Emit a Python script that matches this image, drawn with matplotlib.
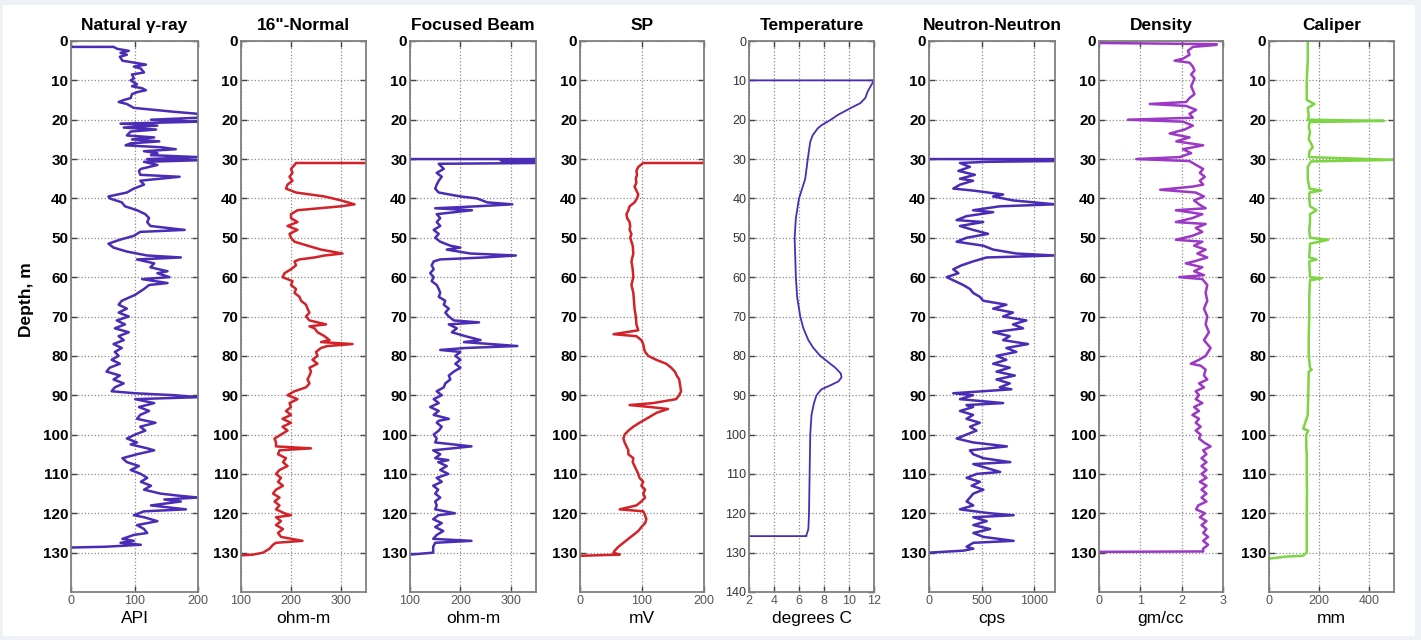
import matplotlib.pyplot as plt
from matplotlib.patches import Rectangle

# depth logs (depth in m, values in log units)
gr_depth = [1.5, 1.5, 2, 2.5, 3, 3.5, 4, 5, 5.5, 6, 6.5, 7, 8, 8.5, 9.5, 10, 11, 11.5, 12, 12.5,
            13, 13.5, 14.5, 15, 15.5, 16, 17, 17.5, 18, 18.5, 19.5, 20, 20.5, 21, 21.5, 22, 22.5,
            23, 24, 24.5, 25, 25.5, 26, 26.5, 27, 27.5, 28, 28.5, 29, 29.5, 30, 30.3, 30.7, 31.5,
            32.5, 33, 34, 34.5, 35.5, 36.5, 37.5, 38.5, 39.5, 40, 41, 42, 43, 44, 45, 46, 47, 48,
            48.5, 49.5, 50.5, 51.5, 52.5, 53.5, 54.5, 55, 55.5, 56.5, 57.5, 58.5, 59, 60, 60.5,
            61.5, 62, 63, 64.5, 66, 67, 68, 69, 70, 71, 72, 73, 74, 75, 76, 77, 78, 79, 80, 81, 82,
            83, 84, 85, 86, 87, 88, 89, 89.5, 90, 90.5, 91, 92, 93, 94, 95, 96, 97, 98, 99, 100,
            101, 102, 102.5, 103.5, 104, 105, 106, 107, 108, 109, 110, 111, 112, 113, 114, 115,
            115.5, 116, 116.5, 117, 118, 119, 119.5, 120.5, 121, 122, 123, 124, 125, 125.5, 126.5,
            127, 127.5, 128, 128.5, 128.7]
gr_api = [0, 67, 73, 91, 78, 88, 77, 81, 99, 118, 99, 110, 115, 96, 99, 94, 104, 96, 112, 118,
          104, 96, 94, 83, 75, 88, 99, 131, 163, 200, 200, 126, 200, 78, 136, 83, 134,
          94, 88, 131, 96, 139, 94, 86, 142, 165, 115, 136, 126, 200, 120, 200, 115, 136,
          110, 107, 109, 171, 109, 115, 99, 88, 59, 61, 80, 85, 104, 117, 123, 120, 125, 179,
          109, 99, 77, 59, 67, 88, 120, 173, 104, 131, 125, 152, 136, 155, 112,
          152, 123, 115, 101, 80, 75, 88, 75, 91, 72, 85, 69, 91, 75, 83, 67, 80, 69, 75, 64, 77,
          61, 56, 77, 67, 83, 69, 64, 101, 163, 200, 101, 131, 107, 123, 109, 104, 133, 109, 117, 101,
          88, 104, 94, 120, 131, 104, 81, 88, 107, 94, 110, 120, 110, 126, 115, 141,
          168, 200, 147, 173, 126, 181, 115, 99, 115, 136, 104, 115, 120, 99, 81,
          99, 78, 110, 54, 0]

sn_depth = [31, 31, 31.5, 32.5, 33.5, 34.5, 35.5, 36.5, 37.5, 38.5, 39.5, 40.5, 41.5, 42, 43, 44,
            45, 46, 47, 48, 49, 50, 51, 52, 53, 54, 54.5, 55, 55.5, 56, 57, 58, 59, 60, 61, 62, 63,
            64, 65, 66, 67, 68, 69, 70, 71, 72, 72.5, 73, 74, 75, 76, 76.5, 77, 77.5, 78, 79, 80,
            81, 82, 83, 84, 85, 86, 87, 88, 89, 90, 91, 92, 93, 94, 95, 96, 97, 98, 99, 100, 101,
            102, 103, 103.5, 104, 105, 106, 107, 108, 109, 110, 111, 112, 113, 114, 115, 116, 117,
            118, 119, 120, 120.5, 121, 122, 123, 124, 125, 126, 127, 127.5, 128, 129, 130, 130.5,
            130.7]
sn_ohm = [350, 210, 207, 200, 203, 197, 203, 193, 190, 210, 267, 300, 327, 300, 213, 200,
          200, 213, 193, 213, 197, 200, 207, 233, 260, 303, 267, 247, 217, 207, 210, 200, 187, 183,
          203, 200, 210, 207, 217, 220, 230, 233, 237, 230, 237, 270, 237, 247, 253, 267, 277, 260,
          323, 273, 260, 250, 253, 243, 253, 237, 240, 237, 233, 237, 230, 207, 193, 213, 197, 200,
          190, 200, 183, 200, 183, 193, 180, 167, 170, 170, 240, 177, 174, 190, 184, 193, 177, 170,
          180, 174, 184, 170, 164, 177, 167, 177, 170, 187, 200, 170, 180, 170, 184, 174, 180, 223,
          170, 164, 157, 144, 124, 100]

fb_depth = [30, 30, 30.3, 30.6, 31, 31.2, 32.5, 33.5, 34.5, 35.5, 36.5, 37.5, 38.5, 39.5, 40, 41,
            41.5, 42, 42.5, 43, 44, 45, 46, 47, 48, 49, 50, 51, 52, 52.5, 53, 54, 54.5, 55, 55.5,
            56, 57, 58, 59, 60, 61, 62, 63, 64, 65, 66, 67, 68, 69, 70, 71, 71.5, 72, 73, 74, 75,
            76, 76.5, 77.5, 78, 78.5, 79, 80, 81, 82, 83, 84, 85, 86, 87, 88, 89, 90, 91, 92, 93,
            94, 95, 96, 96.5, 97, 98, 99, 100, 101, 102, 103, 104, 105, 106, 106.5, 107, 108, 109,
            110, 111, 112, 113, 114, 115, 116, 117, 118, 119, 120, 120.5, 121.5, 122.5, 123.5,
            124.5, 125.5, 126.5, 127, 127.5, 128.5, 130, 130.5]
fb_ohm = [100, 350, 280, 350, 350, 157, 167, 153, 163, 157, 153, 150, 157, 200, 233, 253,
          303, 233, 150, 223, 153, 160, 153, 160, 147, 157, 150, 160, 180, 200, 173, 220, 310, 247,
          160, 147, 143, 147, 140, 147, 143, 153, 157, 160, 157, 170, 167, 177, 170, 177, 187, 237,
          177, 193, 183, 210, 240, 207, 313, 210, 160, 200, 190, 200, 190, 200, 187, 177, 180, 170,
          167, 153, 163, 147, 157, 140, 157, 147, 177, 157, 153, 163, 157, 147, 153, 150, 222, 146,
          160, 150, 176, 156, 173, 160, 176, 153, 163, 146, 156, 150, 160, 150, 153, 150, 189, 156,
          146, 163, 150, 166, 153, 146, 222, 150, 146, 146, 100]

sp_depth = [30.5, 31, 31, 32, 33, 34, 35, 36, 37, 38, 39, 40, 41, 42, 43, 44, 45, 46, 47, 48, 49,
            50, 52, 54, 56, 58, 60, 62, 64, 66, 68, 70, 72, 73.5, 74.5, 75, 76, 77, 78, 79, 80, 81,
            82, 83, 84, 85, 86, 87, 88, 89, 90, 91, 92, 92.5, 93, 93.5, 94.5, 96, 97, 98, 99, 100,
            101, 102, 103, 104, 105, 106, 107, 108, 109, 110, 111, 112, 113, 114, 115, 116, 117,
            118, 119, 119.5, 120.5, 121.5, 122.5, 123.5, 124.5, 125.5, 126.5, 127.5, 128.5, 129.5,
            130, 130.5, 130.8]
sp_mv = [200, 200, 102, 94, 91, 92, 90, 91, 88, 91, 94, 92, 88, 80, 78, 75, 76, 80, 81, 80, 83,
         81, 85, 86, 83, 85, 86, 83, 86, 87, 88, 90, 91, 94, 54, 91, 99, 102, 103, 105, 110, 123,
         139, 147, 153, 156, 160, 161, 162, 163, 160, 155, 118, 80, 113, 142, 123, 107, 96, 86, 78,
         72, 70, 72, 75, 78, 78, 86, 85, 88, 91, 94, 96, 102, 99, 105, 102, 105, 99, 91, 64, 102,
         105, 107, 105, 99, 94, 86, 78, 70, 62, 56, 54, 64, 0]

tc_depth = [10, 10, 11.1, 12.8, 14.5, 15.8, 17.1, 18.8, 20.1, 21.4, 22.2, 23.9, 25.6, 30, 35, 40,
            45, 50, 55, 60, 65, 70, 73, 76, 78, 80, 82, 83, 84.5, 85.5, 86.5, 87.5, 88.5, 90, 92,
            95, 100, 110, 120, 124, 125.5, 125.8, 125.8]
tc_degc = [2, 12, 11.8, 11.5, 11.3, 10.9, 10.1, 9.1, 8.5, 7.8, 7.5, 7.1, 6.9, 6.7, 6.5, 6.0,
           5.75, 5.65, 5.7, 5.75, 5.85, 6.1, 6.35, 6.75, 7.15, 7.7, 8.5, 8.9, 9.35, 9.4, 9.15, 8.5,
           7.8, 7.4, 7.2, 7.0, 6.9, 6.85, 6.8, 6.75, 6.6, 6.6, 2]

nn_depth = [30, 30, 30.5, 30.7, 31, 32, 33, 34, 35, 35.5, 36.5, 37.5, 38, 39, 39.5, 40.5, 41.5, 42,
            43, 43.5, 44.5, 45.5, 46, 47, 48, 49, 50, 51, 52, 53, 54, 54.5, 55, 56, 57, 58, 59, 60,
            61, 62, 63, 64, 65, 66, 67, 68, 69, 70, 71, 72, 73, 74, 75, 76, 77, 78, 79, 80, 81, 82,
            83, 84, 85, 86, 87, 88, 88.5, 89.5, 90, 91, 92, 92.5, 93, 94, 95, 96, 97, 98, 99, 100,
            101, 102, 103, 104, 105, 106, 107, 107.5, 108.5, 109.5, 110, 111, 112, 113, 114, 115,
            116, 117, 118, 119, 120, 120.5, 121, 122, 123, 124, 125, 126, 127, 127.5, 128.5, 129,
            129.5, 130]
nn_cps = [0, 1200, 1200, 550, 295, 390, 280, 437, 295, 420, 295, 231, 420, 706, 611, 800, 1200,
          674, 420, 611, 357, 263, 516, 295, 420, 563, 357, 263, 516, 611, 832, 1200, 548, 420, 310,
          231, 280, 168, 247, 326, 390, 420, 484, 516, 737, 611, 800, 706, 927, 800, 896, 611, 769,
          706, 943, 737, 832, 643, 737, 611, 769, 643, 817, 643, 769, 674, 785, 231, 420, 295, 706,
          357, 420, 295, 420, 357, 484, 390, 452, 357, 263, 420, 742, 390, 422, 518, 774, 422, 550,
          678, 454, 358, 486, 406, 518, 422, 390, 358, 422, 294, 582, 806, 422, 550, 422, 582, 422,
          518, 806, 422, 358, 422, 326, 0]

den_depth = [0.5, 0.8, 1, 1.5, 2.5, 3.5, 4.5, 5, 5.5, 6.5, 7.5, 8.5, 9.5, 10.5, 11.5, 12.5, 13.5,
             14.5, 15.5, 16, 16.5, 17.5, 18.5, 19.5, 20, 20.5, 21.5, 22.5, 23.5, 24.5, 25.5, 26.5,
             27.5, 28.5, 29.5, 30, 30.5, 31.5, 32.5, 33.5, 34.5, 35.5, 36.5, 37, 37.8, 38.5, 39.5,
             40.5, 41.5, 42.5, 43, 44, 45, 46, 46.5, 47.5, 48.5, 49.5, 50.5, 51, 52, 53, 54, 55, 56,
             56.5, 57.5, 58.5, 59.5, 60, 60.5, 62, 64, 66, 68, 70, 72, 74, 76, 78, 80, 81, 82, 82.5,
             83.5, 85, 86, 87, 88, 89, 90, 91, 92, 93, 94, 95, 96, 97, 98, 99, 100, 101, 102, 103,
             104, 105, 106, 107, 108, 109, 110, 111, 112, 113, 114, 115, 116, 117, 118, 119, 120,
             121, 122, 123, 124, 125, 126, 127, 128, 129, 129.7, 129.8]
den_gcc = [0, 2.85, 2.84, 2.27, 2.15, 2.19, 2.03, 1.83, 2.19, 2.27, 2.31, 2.23, 2.31, 2.27, 2.23,
           2.27, 2.31, 2.19, 2.11, 1.23, 2.11, 2.35, 2.19, 2.27, 0.70, 2.03, 2.27, 2.07, 1.71, 2.19,
           1.87, 2.52, 2.03, 2.23, 1.95, 0.9, 2.19, 2.35, 2.52, 2.44, 2.56, 2.44, 2.52, 2.26, 1.48,
           2.34, 2.54, 2.30, 2.42, 2.58, 1.86, 2.50, 2.26, 1.86, 2.58, 2.34, 2.50, 2.26, 1.86, 2.50,
           2.30, 2.58, 2.38, 2.62, 2.30, 2.10, 2.50, 2.30, 2.54, 1.94, 2.50, 2.62, 2.58, 2.62, 2.54,
           2.62, 2.58, 2.66, 2.54, 2.70, 2.58, 2.42, 2.22, 2.46, 2.58, 2.54, 2.62, 2.42, 2.54, 2.34,
           2.42, 2.34, 2.50, 2.30, 2.42, 2.26, 2.42, 2.34, 2.46, 2.34, 2.46, 2.42, 2.54, 2.70, 2.52,
           2.60, 2.48, 2.60, 2.48, 2.60, 2.48, 2.60, 2.44, 2.60, 2.48, 2.60, 2.48, 2.60, 2.40, 2.35,
           2.56, 2.44, 2.60, 2.48, 2.60, 2.52, 2.64, 2.52, 2.64, 2.52, 2.52, 0]

cal_depth = [0, 5, 10, 15, 16, 17, 19, 20, 20.3, 20.6, 22, 23, 25, 26, 27, 28, 29.5, 30.2, 30.6, 32,
             35, 37.5, 38, 38.5, 40, 42, 43, 44, 46, 48, 50, 50.5, 51.5, 55, 55.5, 56, 60, 60.3,
             60.8, 65, 70, 75, 80, 83, 83.5, 84, 90, 95, 98.5, 99, 100, 103, 105, 110, 115, 120,
             125, 130, 130.8, 131, 131.5, 131.8]
cal_mm = [155, 155, 151, 151, 182, 155, 159, 155, 460, 162, 159, 164, 159, 168, 175, 162, 159,
          500, 168, 155, 155, 162, 208, 162, 161, 164, 190, 164, 164, 161, 164, 237, 164, 161, 190,
          161, 164, 210, 164, 161, 161, 159, 159, 164, 171, 159, 157, 155, 137, 157, 149, 149, 151,
          151, 152, 151, 151, 151, 135, 69, 3, 0]

BLUE = '#4a2db4'
RED = '#d2232a'
PURPLE = '#9b38c4'
GREEN = '#7dd444'

W, H = 1421, 640
fig = plt.figure(figsize=(W / 100, H / 100), dpi=100)
fig.patch.set_facecolor('#eef1f6')
fig.add_artist(Rectangle((3 / W, 4 / H), 1412 / W, 631 / H, transform=fig.transFigure,
                         facecolor='white', edgecolor='none', zorder=-10))

plt.rcParams['font.family'] = ['Liberation Sans', 'DejaVu Sans']

# one entry per track: left px, right px, title, unit, x range, x ticks, values, depths, colour
tracks = [
    (71, 198, 'Natural γ-ray', 'API', (0, 200), [0, 100, 200], gr_api, gr_depth, BLUE),
    (241, 366, '16"-Normal', 'ohm-m', (100, 350), [100, 200, 300], sn_ohm, sn_depth, RED),
    (410, 536, 'Focused Beam', 'ohm-m', (100, 350), [100, 200, 300], fb_ohm, fb_depth, BLUE),
    (580, 704, 'SP', 'mV', (0, 200), [0, 100, 200], sp_mv, sp_depth, RED),
    (749, 874, 'Temperature', 'degrees C', (2, 12), [2, 4, 6, 8, 10, 12], tc_degc, tc_depth, BLUE),
    (929, 1055, 'Neutron-Neutron', 'cps', (0, 1200), [0, 500, 1000], nn_cps, nn_depth, BLUE),
    (1099, 1223, 'Density', 'gm/cc', (0, 3), [0, 1, 2, 3], den_gcc, den_depth, PURPLE),
    (1269, 1394, 'Caliper', 'mm', (0, 500), [0, 200, 400], cal_mm, cal_depth, GREEN),
]

top, bottom = 41, 592
for left, right, title, unit, xr, xt, vals, deps, col in tracks:
    ax = fig.add_axes([left / W, 1 - bottom / H, (right - left) / W, (bottom - top) / H])
    lw = 1.3 if title == 'Temperature' else 1.8
    ax.plot(vals, deps, color=col, linewidth=lw)
    ax.set_xlim(*xr)
    ax.set_ylim(140, 0)
    ax.set_xticks(xt)
    ax.set_xticklabels([str(t) for t in xt], fontsize=9, color='#555555',
                       family=['Liberation Sans Narrow', 'Liberation Sans'])
    if title == 'Temperature':
        ax.set_yticks(range(0, 141, 10))
        ax.set_yticklabels([str(t) for t in range(0, 141, 10)], fontsize=9, color='#333333')
    else:
        ax.set_yticks(range(0, 131, 10))
        ax.set_yticklabels([str(t) for t in range(0, 131, 10)], fontsize=11, fontweight='bold')
    ax.grid(True, linestyle=':', color='#8c8c8c', linewidth=0.9)
    ax.tick_params(direction='in', length=4, width=1, color='#444444', top=True, right=True,
                   pad=2)
    for s in ax.spines.values():
        s.set_color('#808080')
        s.set_linewidth(1.3)
    ax.set_title(title, fontsize=12.5, fontweight='bold', pad=8)
    ax.set_xlabel(unit, fontsize=12.5, labelpad=3)

fig.text(27 / W, 1 - 300 / H, 'Depth, m', rotation=90, ha='center', va='center',
         fontsize=12.5, fontweight='bold')

fig.savefig('out.png', dpi=100, facecolor=fig.get_facecolor())
